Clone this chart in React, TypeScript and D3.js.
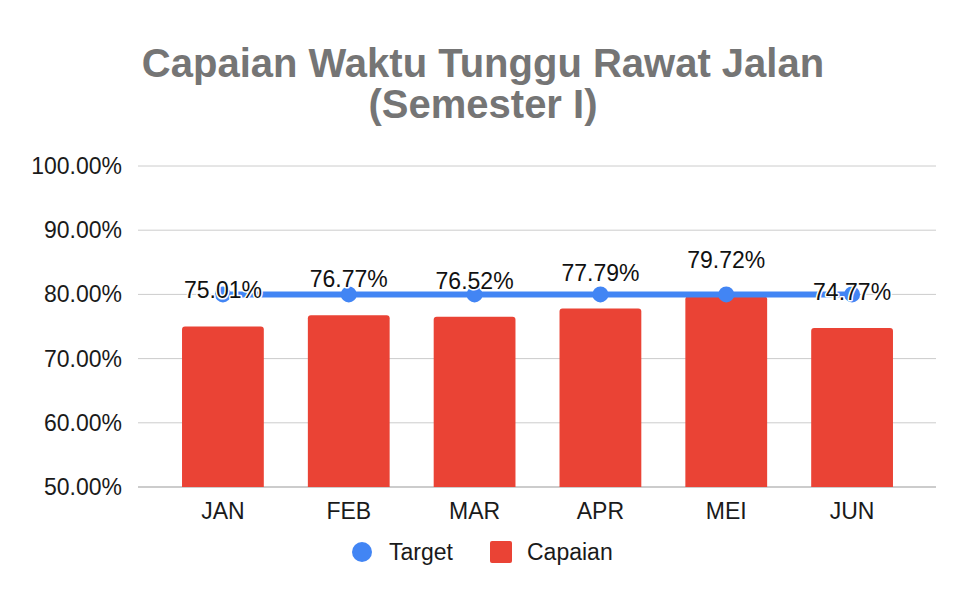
import * as d3 from "d3";

const months = ["JAN", "FEB", "MAR", "APR", "MEI", "JUN"];
const capaian = [75.01, 76.77, 76.52, 77.79, 79.72, 74.77];
const target = [80, 80, 80, 80, 80, 80];
const yTicks = [50, 60, 70, 80, 90, 100];

const W = 966;
const H = 596;
const FONT = "'Liberation Sans', Arial, sans-serif";

export default function App() {
  const gridLeft = 138;
  const gridRight = 936;

  const x = d3
    .scaleBand<string>()
    .domain(months)
    .range([160, 915])
    .paddingInner(0.35)
    .paddingOuter(0.175);
  const y = d3.scaleLinear().domain([50, 100]).range([487, 166]);

  const cx = (m: string) => (x(m) ?? 0) + x.bandwidth() / 2;

  const line = d3
    .line<number>()
    .x((_, i) => cx(months[i]))
    .y((d) => y(d));

  const barPath = (x0: number, y0: number, w: number, h: number, r: number) =>
    `M${x0},${y0 + h}V${y0 + r}Q${x0},${y0} ${x0 + r},${y0}H${x0 + w - r}Q${x0 + w},${y0} ${x0 + w},${y0 + r}V${y0 + h}Z`;

  return (
    <svg width={W} height={H} style={{ position: "absolute", left: 0, top: 0 }}>
      <rect width={W} height={H} fill="#fff" />
      <text x={483} y={77} textAnchor="middle" fontFamily={FONT} fontWeight="bold" fontSize={40} fill="#757575">
        Capaian Waktu Tunggu Rawat Jalan
      </text>
      <text x={483} y={118} textAnchor="middle" fontFamily={FONT} fontWeight="bold" fontSize={40} fill="#757575">
        (Semester I)
      </text>

      {yTicks.map((t) => (
        <g key={t}>
          <line x1={gridLeft} x2={gridRight} y1={y(t)} y2={y(t)} stroke="#cccccc" strokeWidth={t === 50 ? 2 : 1} />
          <text x={122} y={y(t)} dy="0.35em" textAnchor="end" fontFamily={FONT} fontSize={23} fill="#1a1a1a">
            {t.toFixed(2)}%
          </text>
        </g>
      ))}

      {months.map((m, i) => (
        <path
          key={m}
          d={barPath(x(m) ?? 0, y(capaian[i]), x.bandwidth(), y(50) - y(capaian[i]), 3)}
          fill="#ea4335"
        />
      ))}

      <path d={line(target) ?? ""} fill="none" stroke="#4285f4" strokeWidth={6} />
      {months.map((m, i) => (
        <circle key={m} cx={cx(m)} cy={y(target[i])} r={8} fill="#4285f4" />
      ))}

      {months.map((m, i) => (
        <text
          key={m}
          x={cx(m)}
          y={y(capaian[i]) - 36}
          dy="0.35em"
          textAnchor="middle"
          fontFamily={FONT}
          fontSize={23}
          fill="#111"
          stroke="#fff"
          strokeWidth={3}
          strokeLinejoin="round"
          style={{ paintOrder: "stroke" }}
        >
          {capaian[i].toFixed(2)}%
        </text>
      ))}

      {months.map((m) => (
        <text key={m} x={cx(m)} y={511} dy="0.35em" textAnchor="middle" fontFamily={FONT} fontSize={23} fill="#1a1a1a">
          {m}
        </text>
      ))}

      <circle cx={362} cy={552} r={10} fill="#4285f4" />
      <text x={389} y={552} dy="0.35em" fontFamily={FONT} fontSize={23} fill="#1a1a1a">
        Target
      </text>
      <rect x={490} y={541} width={22} height={22} rx={2} fill="#ea4335" />
      <text x={527} y={552} dy="0.35em" fontFamily={FONT} fontSize={23} fill="#1a1a1a">
        Capaian
      </text>
    </svg>
  );
}
